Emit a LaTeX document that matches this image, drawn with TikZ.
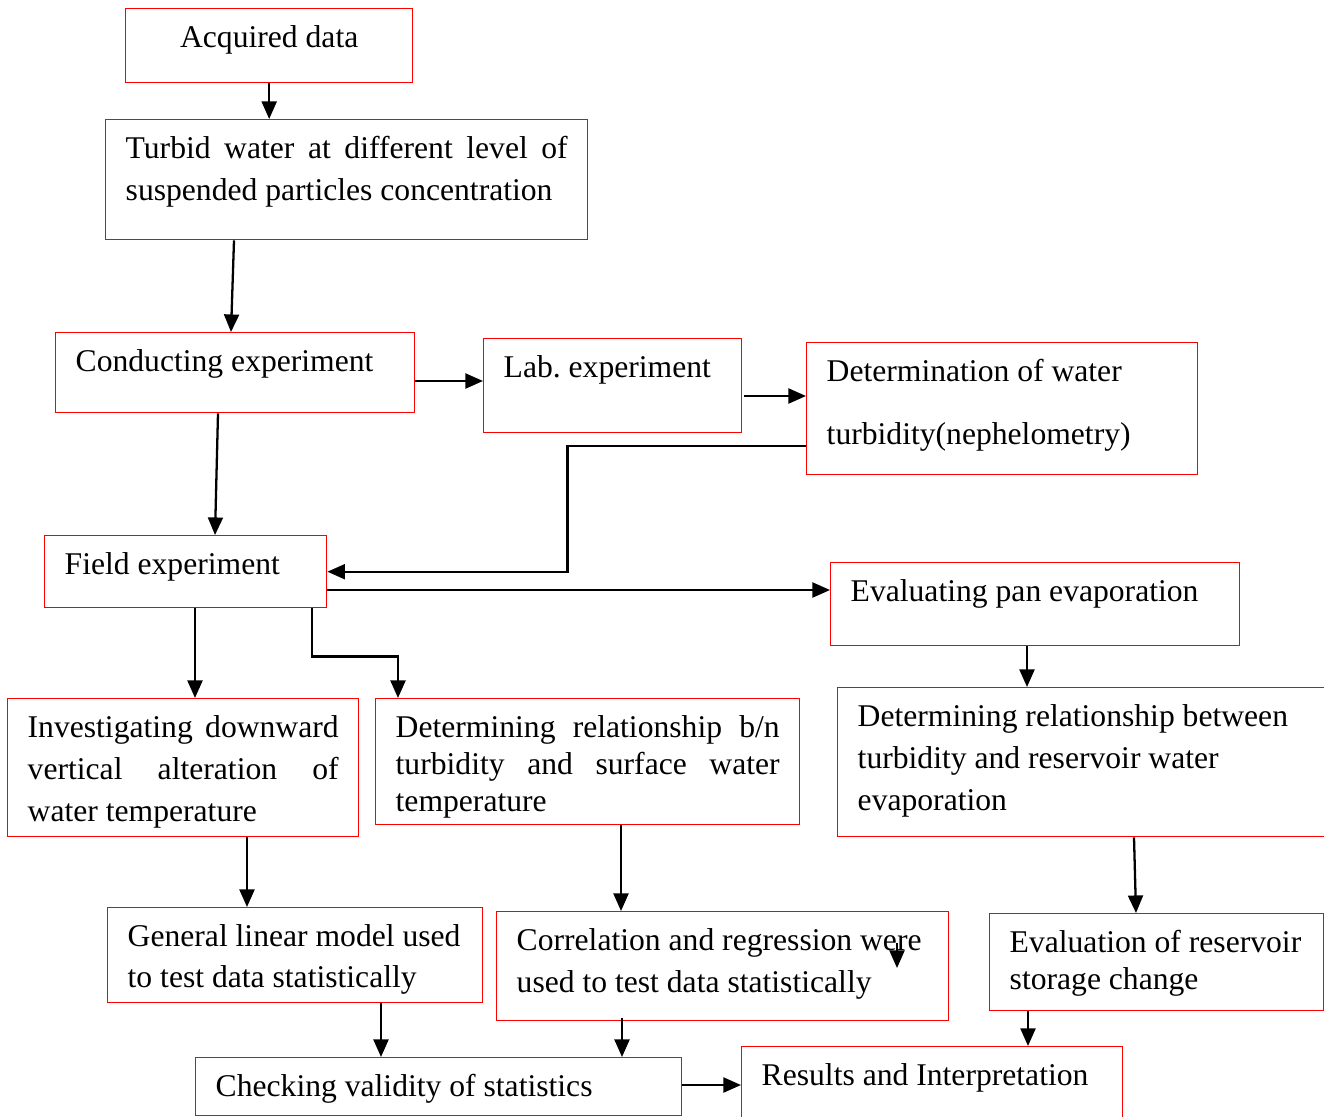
\documentclass[tikz,border=0pt]{standalone}
\usepackage{fontspec}
\setmainfont{Liberation Serif}
\usetikzlibrary{arrows.meta,calc}

% one pixel of the layout grid
\newdimen\pxu \pxu=0.02cm
% box text: [line spacing]{text width}{box height}{text}
\newcommand{\boxtext}[4][42]{%
	\begin{minipage}[t][#3\pxu][t]{#2\pxu}%
		\fontsize{18pt}{#1\pxu}\selectfont
		\rule{0pt}{39\pxu}#4%
	\end{minipage}}

\tikzset{
	box/.style={draw=red, line width=0.8pt, anchor=north west, inner xsep=0.4cm, inner ysep=0pt},
	link/.style={->, line width=1.3pt}
}

\begin{document}
\begin{tikzpicture}[x=0.02cm, y=-0.02cm, >={Triangle[length=10pt,width=8.5pt]}]
	\useasboundingbox (0,0) rectangle (1324,1116);
	
	% 1. Boxes
	\node[box] (acq) at (125,8) {\boxtext{247}{74}{\centering Acquired data}};
	\node[box] (turb) at (105,119) {\boxtext{442}{120}{Turbid water at different level of\linebreak suspended particles concentration}};
	\node[box] (cond) at (55,332) {\boxtext{319}{80}{Conducting experiment}};
	\node[box] (lab) at (483,338) {\boxtext{218}{94}{Lab.\ experiment}};
	\node[box] (det) at (806,342) {\boxtext[63]{351}{132}{Determination of water\\ turbidity(nephelometry)}};
	\node[box] (field) at (44,535) {\boxtext{242}{72}{Field experiment}};
	\node[box] (evap) at (830,562) {\boxtext{369}{83}{Evaluating pan evaporation}};
	\node[box] (inv) at (7,698) {\boxtext{311}{138}{Investigating downward\linebreak vertical alteration of\linebreak water temperature}};
	\node[box] (rel) at (375,698) {\boxtext[37]{384}{126}{Determining relationship b/n\linebreak turbidity and surface water\linebreak temperature}};
	\node[box] (relevap) at (837,687) {\boxtext{480}{149}{Determining relationship between\\ turbidity and reservoir water\\ evaporation}};
	\node[box] (glm) at (107,907) {\boxtext[41]{335}{95}{General linear model used\\ to test data statistically}};
	\node[box] (corr) at (496,911) {\boxtext{412}{109}{Correlation and regression were\\ used to test data statistically}};
	\node[box] (eval) at (989,913) {\boxtext[37]{294}{97}{Evaluation of reservoir\\ storage change}};
	\node[box] (check) at (195,1057) {\boxtext{446}{58}{Checking validity of statistics}};
	\node[box] (res) at (741,1046) {\boxtext{341}{100}{Results and Interpretation}};
	
	% 2. Connectors
	\draw[link] (acq.south) -- (acq.south |- turb.north);
	\draw[link] ($(turb.south west)+(129,0)$) -- ($(cond.north west)+(176,0)$);
	\draw[link] ($(cond.north east)+(0,49)$) coordinate (c1) -- (c1 -| lab.west);
	\draw[link] ($(lab.north east)+(2,58)$) coordinate (c2) -- (c2 -| det.west);
	\draw[link] ($(det.north west)+(0,104)$) -| ($(field.east)+(240,0)$) -- (field.east);
	\draw[link] ($(cond.south west)+(163,0)$) -- ($(field.north west)+(171,0)$);
	\draw[link] ($(field.north east)+(0,55)$) coordinate (c3) -- (c3 -| evap.west);
	\draw[link] ($(field.south west)+(151,0)$) coordinate (c4) -- (c4 |- inv.north);
	\draw[link] ($(field.south west)+(268,0)$) -- ++(0,48) -| ($(rel.north west)+(23,0)$);
	\draw[link] ($(inv.south west)+(240,0)$) coordinate (c5) -- (c5 |- glm.north);
	\draw[link] ($(rel.south west)+(246,0)$) coordinate (c6) -- (c6 |- corr.north);
	\draw[link] ($(evap.south west)+(197,0)$) coordinate (c7) -- (c7 |- relevap.north);
	\draw[link] ($(relevap.south west)+(297,0)$) -- ($(eval.north west)+(147,0)$);
	\draw[link] ($(glm.south west)+(274,0)$) coordinate (c8) -- (c8 |- check.north);
	\draw[link] ($(corr.south west)+(126,-3)$) coordinate (c9) -- (c9 |- check.north);
	\draw[link] ($(check.north east)+(0,28)$) coordinate (c10) -- (c10 -| res.west);
	\draw[link] ($(eval.south west)+(39,0)$) coordinate (c11) -- (c11 |- res.north);
	
	% 3. Stray arrow inside the correlation box
	\coordinate (stray) at ($(corr.north west)+(401,32)$);
	\draw[link] (stray) -- ++(0,25);
\end{tikzpicture}
\end{document}
